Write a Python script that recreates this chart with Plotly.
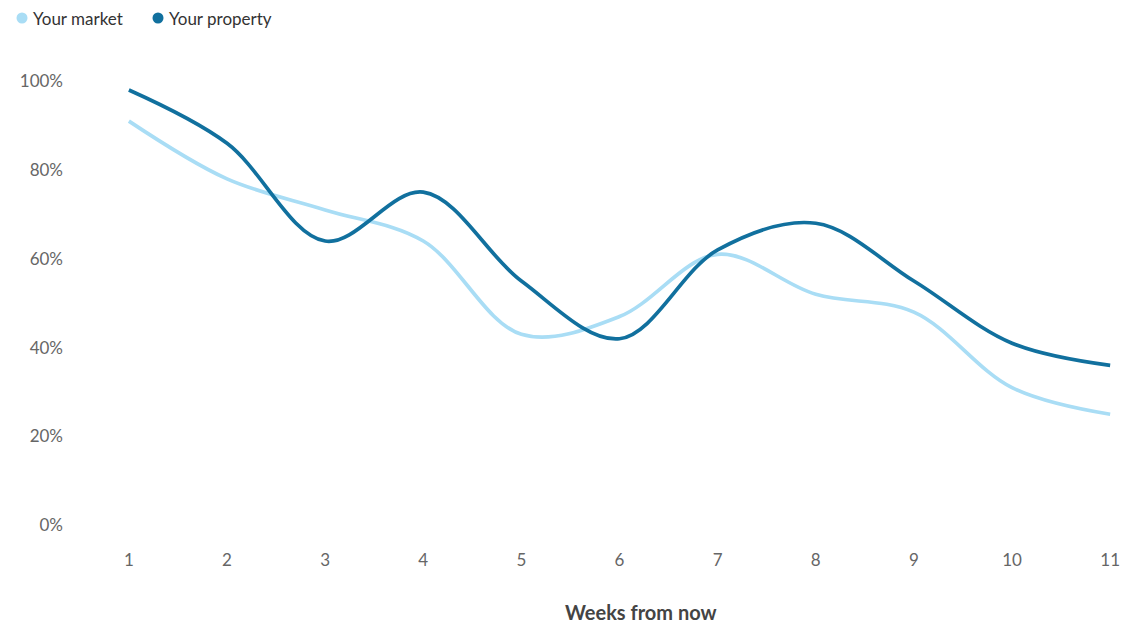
import plotly.graph_objects as go

weeks = [1, 2, 3, 4, 5, 6, 7, 8, 9, 10, 11]
market = [91, 78, 71, 64, 43, 47, 61, 52, 48, 31, 25]
property_vals = [98, 86, 64, 75, 55, 42, 62, 68, 55, 41, 36]
y_ticks = [0, 20, 40, 60, 80, 100]
y_tick_text = [f"{v}%" for v in y_ticks]

series = [
    ("Your market", market, "#a9ddf5"),
    ("Your property", property_vals, "#11709e"),
]

FONT = "Lato"
W, H = 1133, 625
plot_l, plot_r, plot_t, plot_b = 70, 1118, 70, 532


def px_x(v):
    return (v - plot_l) / (plot_r - plot_l)


def px_y(v):
    return (plot_b - v) / (plot_b - plot_t)


fig = go.Figure()
for name, vals, color in series:
    fig.add_trace(go.Scatter(
        x=weeks, y=vals, name=name, mode="lines", showlegend=False,
        line=dict(color=color, width=3.7, shape="spline", smoothing=1.0),
    ))

# Legend row: coloured dot followed by the series name
legend_dot_x = [22, 158]
legend_cy = 18
for (name, _, color), dx in zip(series, legend_dot_x):
    fig.add_shape(
        type="circle", xref="paper", yref="paper",
        x0=px_x(dx - 5.5), x1=px_x(dx + 5.5),
        y0=px_y(legend_cy + 5.5), y1=px_y(legend_cy - 5.5),
        fillcolor=color, line=dict(width=0),
    )
    fig.add_annotation(
        x=px_x(dx + 9), y=px_y(legend_cy), xref="paper", yref="paper",
        text=name, showarrow=False, xanchor="left", yanchor="middle",
        font=dict(family=FONT, size=17, color="#333333"),
    )

fig.update_layout(
    width=W, height=H,
    margin=dict(l=plot_l, r=W - plot_r, t=plot_t, b=H - plot_b),
    paper_bgcolor="white", plot_bgcolor="white",
    font=dict(family=FONT, size=17, color="#666666"),
    showlegend=False,
    xaxis=dict(
        range=[0.4, 11.08], tickmode="array", tickvals=weeks,
        showgrid=False, zeroline=False, showline=False, ticks="",
        ticklabelstandoff=16,
    ),
    yaxis=dict(
        range=[-1.5, 102.5], tickmode="array", tickvals=y_ticks,
        ticktext=y_tick_text, showgrid=False, zeroline=False,
        showline=False, ticks="", ticklabelstandoff=6,
    ),
)

# Axis title placed below the tick labels
fig.add_annotation(
    x=px_x(641), y=px_y(612), xref="paper", yref="paper",
    text="<b>Weeks from now</b>", showarrow=False,
    xanchor="center", yanchor="middle",
    font=dict(family=FONT, size=20, color="#444444"),
)

fig.write_html("out.html")
